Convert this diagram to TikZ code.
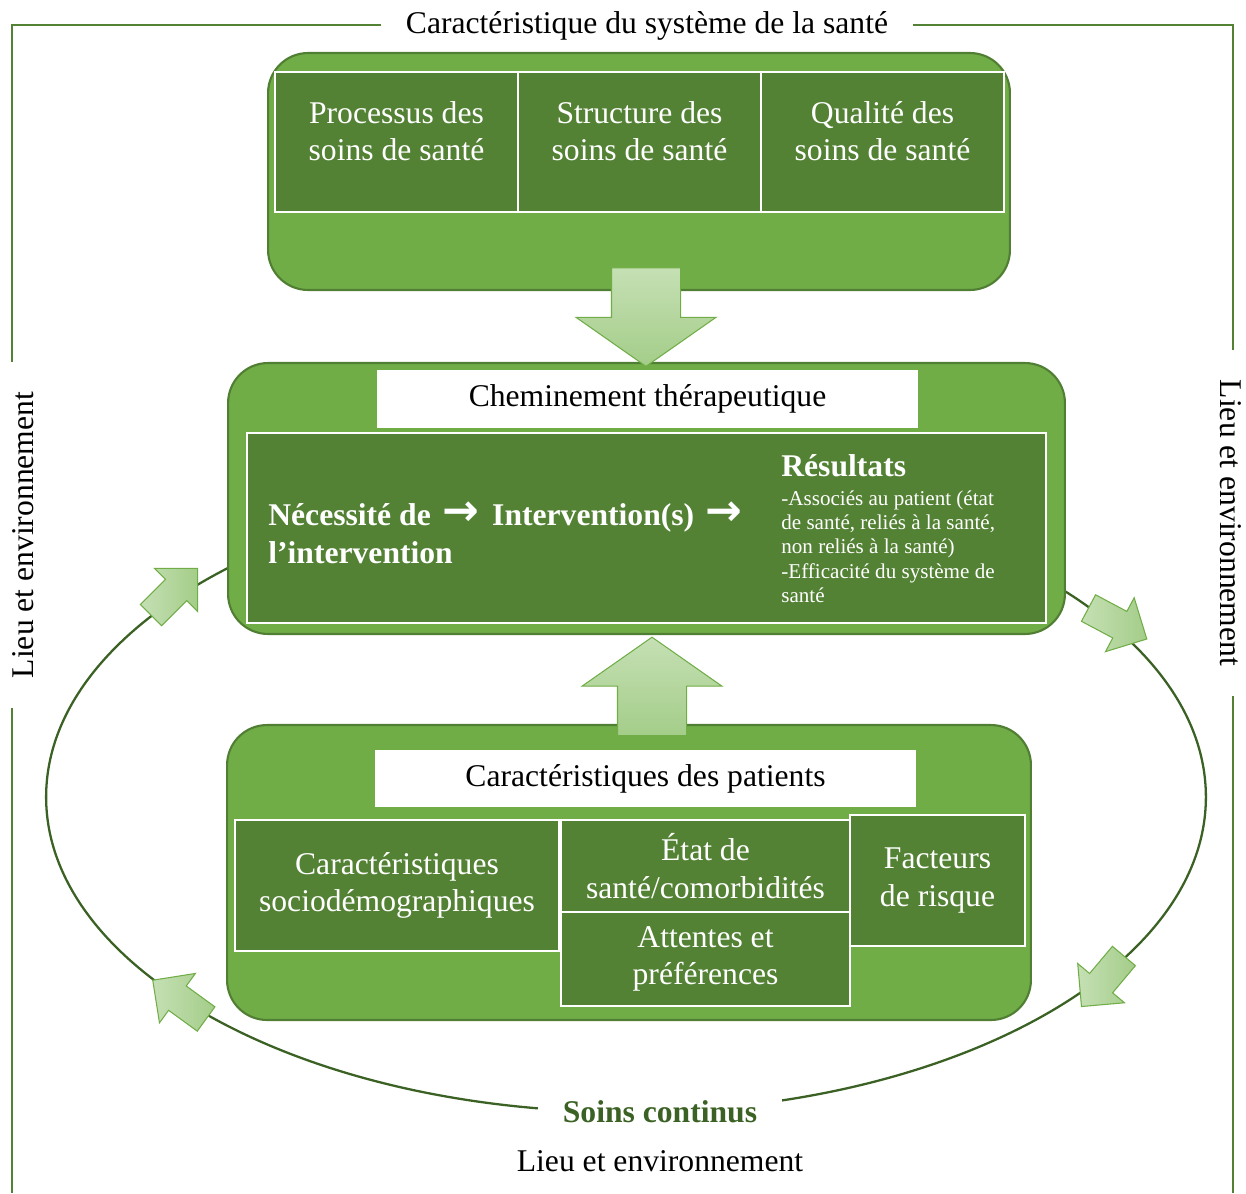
\documentclass[tikz,border=0pt]{standalone}
\usepackage{fontspec}
\setmainfont{Liberation Serif}
\newfontfamily\arrowfont{DejaVu Sans}
\usetikzlibrary{shapes.arrows}

\definecolor{boxgreen}{HTML}{70AD47}
\definecolor{boxedge}{HTML}{507E32}
\definecolor{cellgreen}{HTML}{548235}
\definecolor{loopgreen}{HTML}{3B6224}
\definecolor{arrowlight}{HTML}{C5E0B4}
\definecolor{arrowdark}{HTML}{A4CD89}

\newcommand{\bigfont}{\fontsize{18}{21.5}\selectfont}
\newcommand{\smallfont}{\fontsize{12}{13.9}\selectfont}
\newcommand{\thenarrow}{\hspace{2pt}{\arrowfont\bfseries\fontsize{25}{21.5}\selectfont →}\hspace{3pt}}

\begin{document}
\begin{tikzpicture}[x=0.02cm, y=-0.02cm]
	\tikzset{
		group box/.style={draw=boxedge, line width=1.2pt, fill=boxgreen, rounded corners=0.8cm},
		cell box/.style={draw=white, line width=1pt, fill=cellgreen, text=white, align=center, font=\bigfont, inner sep=0pt},
		title box/.style={fill=white, font=\bigfont, inner sep=0pt},
		block arrow/.style={single arrow, draw=boxgreen, line width=0.6pt, top color=arrowlight, bottom color=arrowdark, inner xsep=0pt, inner ysep=0.68cm, single arrow head extend=0.71cm, single arrow tip angle=110, minimum height=1.97cm},
		flow arrow/.style={single arrow, draw=boxgreen, line width=0.6pt, left color=arrowlight, right color=arrowdark, inner xsep=0pt, inner ysep=0.29cm, single arrow head extend=0.31cm, single arrow tip angle=90, minimum height=1.32cm},
		frame label/.style={fill=white, font=\bigfont, inner ysep=1pt},
	}
	\useasboundingbox (0,0) rectangle (1246,1193);
	% \draw[help lines] (0,0) grid[step=1cm] (1246,1193);

	% outer frame
	\draw[cellgreen, line width=1.2pt] (12,1193) |- (1233,25) -- (1233,1193);
	\node[frame label, inner xsep=0.5cm] (sysname) at (647,26) {Caractéristique du système de la santé};
	\node[frame label, rotate=90, inner xsep=0.6cm] (leftenv) at (23,535) {Lieu et environnement};
	\node[frame label, rotate=-90, inner xsep=0.6cm] (rightenv) at (1231,523) {Lieu et environnement};
	\node[font=\bigfont] (bottomenv) at (660,1161) {Lieu et environnement};

	% continuum of care
	\draw[loopgreen, line width=1.3pt] (626,797) ellipse [x radius=11.6cm, y radius=6.3cm];

	% health system
	\node[group box, minimum width=14.84cm, minimum height=4.74cm] (systembox) at (639,171.5) {};
	\node[cell box, text depth=12.5pt, minimum width=4.86cm, minimum height=2.8cm] (process) at (396.5,142) {Processus des\\soins de santé};
	\node[cell box, text depth=12.5pt, minimum width=4.86cm, minimum height=2.8cm] (structure) at (639.5,142) {Structure des\\soins de santé};
	\node[cell box, text depth=12.5pt, minimum width=4.86cm, minimum height=2.8cm] (quality) at (882.5,142) {Qualité des\\soins de santé};

	% care pathway
	\node[group box, minimum width=16.74cm, minimum height=5.42cm] (pathbox) at (646.5,498.5) {};
	\node[title box, minimum width=10.82cm, minimum height=1.16cm] (pathtitle) at (647.5,399) {Cheminement thérapeutique};
	\node[cell box, minimum width=15.98cm, minimum height=3.8cm] (pathcell) at (646.5,528) {};
	\node[anchor=west, align=left, text=white, font=\bigfont\bfseries, inner sep=0pt] (need) at (268,533)
		{Nécessité de \thenarrow{} Intervention(s) \thenarrow\\l’intervention};
	\node[anchor=base west, text=white, font=\bigfont\bfseries, inner sep=0pt] (results) at (781,476) {Résultats};
	\node[anchor=north west, align=left, text=white, font=\smallfont, inner sep=0pt] (resultlist) at (781,490)
		{-Associés au patient (état\\de santé, reliés à la santé,\\non reliés à la santé)\\-Efficacité du système de\\santé};

	% patients
	\node[group box, minimum width=16.08cm, minimum height=5.9cm] (patientbox) at (629,872.5) {};
	\node[title box, minimum width=10.82cm, minimum height=1.14cm] (patienttitle) at (645.5,778.5) {Caractéristiques des patients};
	\node[cell box, minimum width=6.48cm, minimum height=2.62cm] (socio) at (397,885.5) {Caractéristiques\\sociodémographiques};
	\node[cell box, minimum width=5.78cm, minimum height=1.84cm] (health) at (705.5,866) {État de\\santé/comorbidités};
	\node[cell box, minimum width=5.78cm, minimum height=1.88cm] (prefs) at (705.5,959) {Attentes et\\préférences};
	\node[cell box, minimum width=3.5cm, minimum height=2.62cm] (risk) at (937.5,880.5) {Facteurs\\de risque};

	% arrows
	\node[block arrow, rotate=-90] (down) at (646,305) {};
	\node[block arrow, rotate=90] (up) at (652,698.5) {};
	\node[flow arrow, rotate=-28] (flowout) at (1111,620) {};
	\node[flow arrow, rotate=230] (flowdown) at (1107.5,975.5) {};
	\node[flow arrow, rotate=144] (flowback) at (185.5,1004) {};
	\node[flow arrow, rotate=45] (flowin) at (169,597) {};
	\node[fill=white, font=\bigfont\bfseries, text=loopgreen, inner xsep=0.5cm, inner ysep=1pt] (care) at (660,1112) {Soins continus};
\end{tikzpicture}
\end{document}
